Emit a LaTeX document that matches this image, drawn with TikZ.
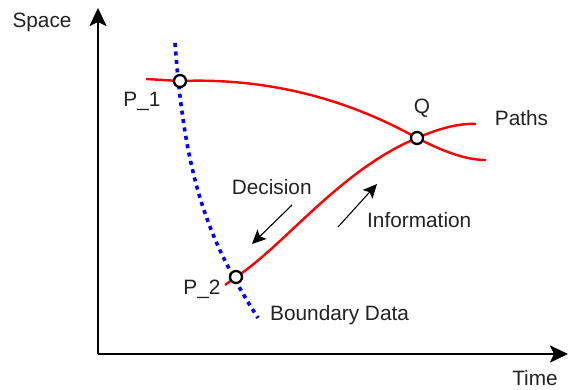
\documentclass[tikz,border=0pt]{standalone}
\usepackage{fontspec}
\setmainfont{Liberation Sans}
\usetikzlibrary{arrows.meta}
\definecolor{txt}{HTML}{222222}
\tikzset{
  axisline/.style={line width=2.4pt, -{Stealth[length=18pt, width=17pt, inset=4pt]}},
  redpath/.style={draw=red, line width=2.4pt},
  boundary/.style={draw=blue, line width=3.6pt, dash pattern=on 4pt off 4.5pt},
  pt/.style={circle, draw=black, fill=white, line width=2.3pt, minimum size=12pt, inner sep=0pt},
  lbl/.style={font=\fontsize{20.8}{24}\selectfont, text=txt, inner sep=0pt, anchor=base},
  thinarrow/.style={line width=1.1pt, -{Stealth[length=14pt, width=13pt, inset=3pt]}}
}
\begin{document}
\begin{tikzpicture}[x=1pt,y=-1pt]
\useasboundingbox (0,0) rectangle (569,389);
% axes
\coordinate (O) at (98,354);
\coordinate (ytop) at (98,8);
\coordinate (xend) at (568,354);
\draw[axisline] (O) -- (ytop);
\draw[axisline] (O) -- (xend);
% key points
\coordinate (P1) at (180,81);
\coordinate (P2) at (236,277);
\coordinate (Q) at (417,138);
\coordinate (r1s) at (146,79);
\coordinate (r1e) at (486,160);
\coordinate (r2s) at (225,285);
\coordinate (r2e) at (476,124);
\coordinate (bs) at (175,43);
\coordinate (be) at (258,318);
% red paths
\draw[redpath] (r1s) -- (P1) .. controls (260,78) and (340,95) .. (Q) .. controls (450,155) and (470,160) .. (r1e);
\draw[redpath] (r2s) -- (P2) .. controls (285,245) and (340,170) .. (Q) .. controls (440,128) and (460,123) .. (r2e);
% boundary
\draw[boundary] (bs) .. controls (185,180) and (208,240) .. (be);
% points
\node[pt] (p1) at (P1) {};
\node[pt] (p2) at (P2) {};
\node[pt] (q) at (Q) {};
% arrows
\coordinate (da) at (292,205);
\coordinate (db) at (252,244);
\coordinate (ia) at (338,227);
\coordinate (ib) at (377,184);
\draw[thinarrow] (da) -- (db);
\draw[thinarrow] (ia) -- (ib);
% labels
\node[lbl] (space) at (42,27.5) {Space};
\node[lbl] (time) at (535,385.3) {Time};
\node[lbl] (p1l) at (142,106.5) {P\_1};
\node[lbl] (ql) at (422,113.3) {Q};
\node[lbl] (paths) at (521.5,125) {Paths};
\node[lbl] (dec) at (271.7,194.3) {Decision};
\node[lbl, anchor=base west] (info) at (367,227.3) {Information};
\node[lbl] (p2l) at (202,294) {P\_2};
\node[lbl, anchor=base west] (bd) at (270,320.7) {Boundary Data};
\end{tikzpicture}
\end{document}
